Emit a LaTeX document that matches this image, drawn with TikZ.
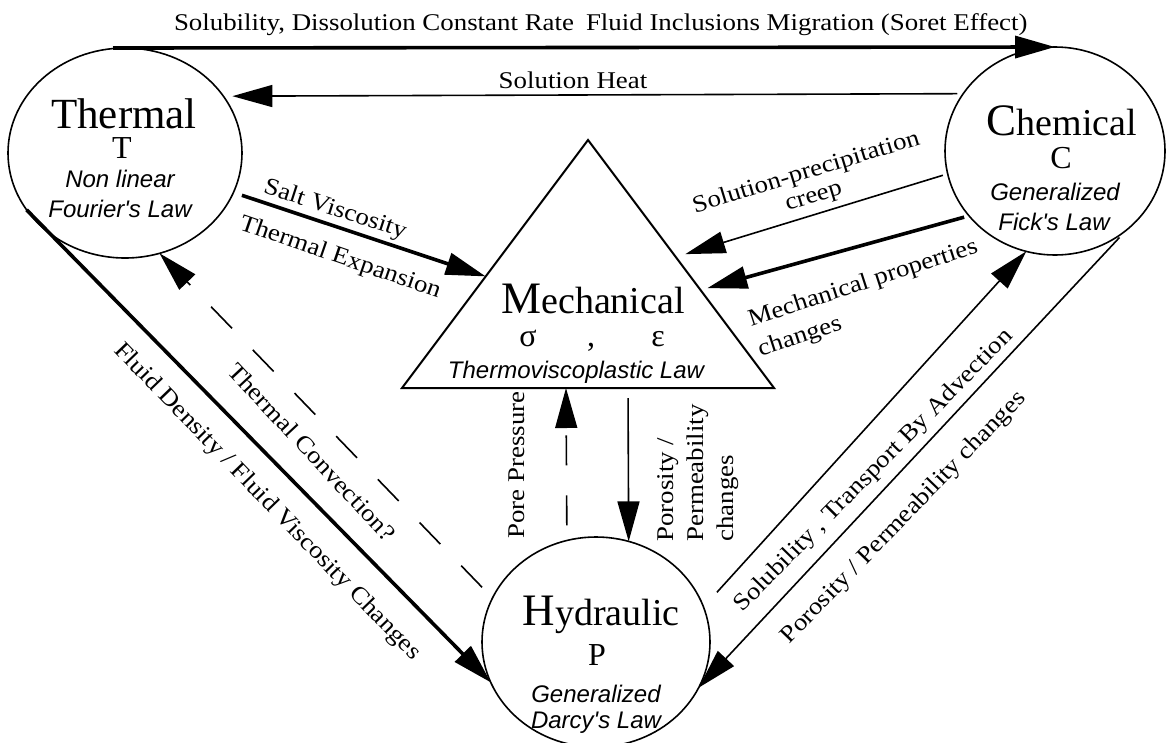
\documentclass[tikz,border=0pt]{standalone}
\usepackage{fontspec}
\setmainfont{Liberation Serif}
\newfontfamily\labfont{Liberation Serif}[FakeStretch=1.12]
\newfontfamily\lawfont{Liberation Sans}
\usetikzlibrary{arrows.meta,shapes.geometric,calc}
\newcommand\firstlet[1]{{\fontsize{45}{45}\selectfont #1}}
\begin{document}
\begin{tikzpicture}[x=1pt,y=-1pt,
  every node/.style={inner sep=0pt, outer sep=0pt},
  proc/.style={ellipse, draw, line width=1.6pt, inner sep=0pt},
  big/.style={font=\fontsize{38}{40}\selectfont, anchor=base},
  sym/.style={font=\fontsize{32}{34}\selectfont, anchor=base},
  law/.style={font=\lawfont\itshape\fontsize{24}{26}\selectfont, anchor=base},
  lab/.style={font=\labfont\fontsize{24}{27}\selectfont},
  head/.style={-{Triangle[length=40pt,width=22pt]}},
  thinarrow/.style={line width=1.6pt, head},
  thickarrow/.style={line width=3.6pt, head},
  dasharrow/.style={line width=1.6pt, head, dash pattern=on 30pt off 30pt},
]
\useasboundingbox (0,0) rectangle (1167,742);
\fill[white] (0,0) rectangle (1167,742);

% process ellipses
\node[proc, minimum width=234pt, minimum height=210pt] (T) at (125,153) {};
\node[proc, minimum width=220pt, minimum height=208pt] (C) at (1055,151) {};
\node[proc, minimum width=228pt, minimum height=210pt] (H) at (596,642) {};

% mechanical triangle
\coordinate (Ma) at (588,140);
\coordinate (Mb) at (402,388);
\coordinate (Mc) at (774,388);
\draw[line width=2pt, line join=miter] (Ma) -- (Mb) -- (Mc) -- cycle;
\coordinate (ML) at ($(Ma)!0.55!(Mb)$);
\coordinate (MR1) at ($(Ma)!0.472!(Mc)$);
\coordinate (MR2) at ($(Ma)!0.605!(Mc)$);
\coordinate (MB1) at (566,388);
\coordinate (MB2) at (628,388);

% texts in the shapes
\node[big, font=\fontsize{43}{44}\selectfont] (Tname) at (124,128) {Thermal};
\node[sym] (Tsym) at (122,158) {T};
\node[law] (Tlaw1) at (120,187) {Non linear};
\node[law] (Tlaw2) at (120,217) {Fourier's Law};

\node[big] (Cname) at (1062,135) {\firstlet{C}hemical};
\node[sym] (Csym) at (1061,168) {C};
\node[law] (Claw1) at (1055,200) {Generalized};
\node[law] (Claw2) at (1054,230) {Fick's Law};

\node[big] (Hname) at (601,625) {\firstlet{H}ydraulic};
\node[sym] (Hsym) at (597,665) {P};
\node[law] (Hlaw1) at (596,702) {Generalized};
\node[law] (Hlaw2) at (596,728) {Darcy's Law};

\node[big] (Mname) at (593,313) {\firstlet{M}echanical};
\node[sym] (Msig) at (528,346) {σ};
\node[sym] (Mcom) at (591,346) {,};
\node[sym] (Meps) at (658,346) {ε};
\node[law] (Mlaw) at (576,378) {Thermoviscoplastic Law};

% connectors
\draw[thickarrow, shorten <=-12pt] (T.north) -- (C.north);
\draw[thinarrow, shorten <=6pt, shorten >=9pt] (C.148.2) -- (T.30.7);
\draw[thickarrow, shorten <=9pt] (T.-20.6) -- (ML);
\draw[thinarrow, shorten <=5pt, shorten >=10pt] (C.192) -- (MR1);
\draw[thickarrow, shorten <=5pt, shorten >=7pt] (C.217) -- (MR2);
\draw[thickarrow] (T.210) -- (H.201);
\draw[dasharrow, shorten <=15pt] (H.157) -- (T.-71.6);
\draw[dasharrow, shorten <=15pt] (H.106.5) -- (MB1);
\draw[thinarrow, shorten <=10pt] (MB2) -- (H.72.4);
\draw[thinarrow, shorten <=20pt] (H.18) -- (C.254.4);
\draw[thinarrow, shorten <=10pt] (C.-48.4) -- (H.-24.5);

% labels
\node[lab, anchor=base west] (topl) at (174,30) {Solubility, Dissolution Constant Rate\hspace{12pt}Fluid Inclusions Migration (Soret Effect)};
\node[lab, anchor=base] (heatl) at (573,88) {Solution Heat};
\node[lab, rotate=-18] (saltl) at (335,210) {Salt Viscosity};
\node[lab, rotate=-19] (expl) at (340,258) {Thermal Expansion};
\node[lab, rotate=17, align=center, font=\labfont\fontsize{24}{25}\selectfont] (creepl) at (810,185) {Solution-precipitation\\creep};
\node[lab, rotate=18, align=left, font=\labfont\fontsize{24}{31}\selectfont] (mpl) at (868,299) {Mechanical properties\\changes};
\node[lab, rotate=-46] (fdl) at (267,502) {Fluid Density / Fluid Viscosity Changes};
\node[lab, rotate=-47] (tcl) at (312,452) {Thermal Convection?};
\node[lab, rotate=90] (ppl) at (517,465) {Pore Pressure};
\node[lab, rotate=90, align=left, font=\labfont\fontsize{24}{30}\selectfont] (pvl) at (698,473) {Porosity /\\Permeability\\changes};
\node[lab, rotate=45.5] (soll) at (874,471) {Solubility , Transport By Advection};
\node[lab, rotate=46] (pdl) at (904,518) {Porosity / Permeability changes};
\end{tikzpicture}
\end{document}
